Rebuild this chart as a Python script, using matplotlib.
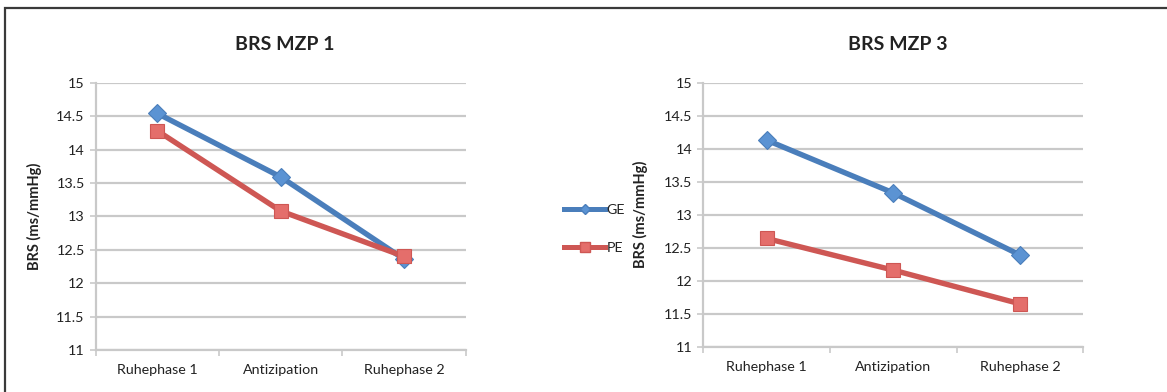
import matplotlib
matplotlib.use("Agg")
import matplotlib.pyplot as plt
from matplotlib.patches import Rectangle
from matplotlib.lines import Line2D

plt.rcParams['font.family'] = ['Lato', 'DejaVu Sans']

# Data
phases = ["Ruhephase 1", "Antizipation", "Ruhephase 2"]
mzp1_ge = [14.54, 13.59, 12.36]
mzp1_pe = [14.28, 13.08, 12.40]
mzp3_ge = [14.13, 13.33, 12.39]
mzp3_pe = [12.64, 12.16, 11.65]
y_ticks = [11, 11.5, 12, 12.5, 13, 13.5, 14, 14.5, 15]
y_tick_labels = ["11", "11.5", "12", "12.5", "13", "13.5", "14", "14.5", "15"]
titles = ["BRS MZP 1", "BRS MZP 3"]
series_names = ["GE", "PE"]
y_label = "BRS (ms/mmHg)"

W, H = 1167, 392
fig = plt.figure(figsize=(W / 100, H / 100), dpi=100)
fig.patch.set_facecolor("white")

blue_line = "#4A7EBB"
blue_face = "#5B93D3"
red_line = "#CE5754"
red_face = "#E46E6B"
grid_col = "#C9C9C9"
text_col = "#222222"


def px_rect(x0, y_top, x1, y_bottom):
    return [x0 / W, 1 - y_bottom / H, (x1 - x0) / W, (y_bottom - y_top) / H]


axes_specs = [
    (px_rect(95.7, 82.7, 465.7, 350.0), mzp1_ge, mzp1_pe, 285),
    (px_rect(703.3, 82.7, 1083.3, 346.7), mzp3_ge, mzp3_pe, 898),
]

x = list(range(len(phases)))
for i, (rect, ge, pe, title_x) in enumerate(axes_specs):
    ax = fig.add_axes(rect)
    ax.set_facecolor("white")
    ax.plot(x, ge, color=blue_line, lw=3.9, marker="D", ms=9,
            mfc=blue_face, mec=blue_line, mew=0.8, zorder=3,
            solid_capstyle="butt")
    ax.plot(x, pe, color=red_line, lw=3.9, marker="s", ms=10.5,
            mfc=red_face, mec=red_line, mew=0.8, zorder=4,
            solid_capstyle="butt")
    ax.set_xlim(-0.5, 2.5)
    ax.set_ylim(11, 15)
    ax.set_yticks(y_ticks)
    ax.set_yticklabels(y_tick_labels)
    ax.yaxis.grid(True, color=grid_col, lw=1.6)
    ax.set_axisbelow(True)
    ax.set_xticks([-0.5, 0.5, 1.5, 2.5])
    ax.set_xticklabels([])
    ax.set_xticks(x, minor=True)
    ax.set_xticklabels(phases, minor=True)
    ax.tick_params(axis="x", which="minor", length=0, pad=10,
                   labelsize=10.3, labelcolor=text_col)
    ax.tick_params(axis="x", which="major", length=4, width=1.2,
                   color=grid_col, direction="out")
    ax.tick_params(axis="y", length=4, width=1.2, color=grid_col,
                   labelsize=10.3, labelcolor=text_col, pad=4)
    for s in ("top", "right"):
        ax.spines[s].set_visible(False)
    for s in ("left", "bottom"):
        ax.spines[s].set_color(grid_col)
        ax.spines[s].set_linewidth(1.6)
    ax.set_ylabel(y_label, fontsize=10.5, fontweight="bold", color=text_col)
    ax.yaxis.set_label_coords(-0.145, 0.5)
    fig.text(title_x / W, 1 - 45 / H, titles[i], ha="center", va="center",
             fontsize=14, fontweight="bold", color=text_col)

# Shared legend between the two panels
handles = [
    Line2D([], [], color=blue_line, lw=3.6, marker="D", ms=5,
           mfc=blue_face, mec=blue_line),
    Line2D([], [], color=red_line, lw=3.6, marker="s", ms=7,
           mfc=red_face, mec=red_line),
]
fig.legend(handles, series_names, loc="center left",
           bbox_to_anchor=(551 / W, 1 - 229 / H), frameon=False,
           handlelength=2.9, handletextpad=0.1, labelspacing=1.75,
           fontsize=10.3, labelcolor=text_col)

# Outer frame
fig.patches.append(Rectangle((5 / W, -0.2), 1.2, 1.2 - 8 / H,
                             transform=fig.transFigure, fill=False,
                             ec="#3A3A3A", lw=1.6))

fig.savefig("out.png", dpi=100, facecolor="white")
